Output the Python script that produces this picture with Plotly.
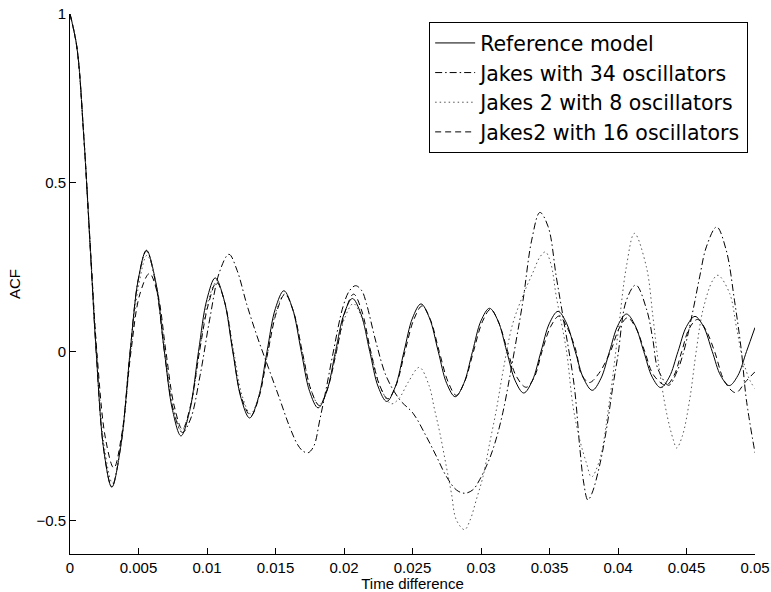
import plotly.graph_objects as go

# ---------------- data ----------------
ref_x = [0, 0.0005, 0.001, 0.0015, 0.00191, 0.00248, 0.00305, 0.00372, 0.00439, 0.00499,
         0.00558, 0.00624, 0.00689, 0.00749, 0.00810, 0.00874, 0.00938, 0.00999, 0.01060, 0.01124,
         0.01188, 0.01249, 0.01311, 0.01374, 0.01438, 0.01499, 0.01561, 0.01624, 0.01688, 0.01749,
         0.01811, 0.01874, 0.01938, 0.02000, 0.02061, 0.02124, 0.02188, 0.02250, 0.02312, 0.02374,
         0.02438, 0.02500, 0.02562, 0.02624, 0.02688, 0.02750, 0.02812, 0.02874, 0.02938, 0.03000,
         0.03062, 0.03124, 0.03188, 0.03250, 0.03312, 0.03374, 0.03438, 0.03500, 0.03562, 0.03624,
         0.03688, 0.03750, 0.03812, 0.03874, 0.03938, 0.04000, 0.04062, 0.04124, 0.04188, 0.04250,
         0.04312, 0.04374, 0.04438, 0.04500, 0.04562, 0.04624, 0.04688, 0.04750, 0.04812, 0.04874,
         0.04938, 0.05]
ref_y = [1.0, 0.903, 0.642, 0.291, 0.0, -0.296, -0.402, -0.276, 0.0, 0.215,
         0.300, 0.210, 0.0, -0.175, -0.250, -0.175, 0.0, 0.154, 0.218, 0.154,
         0.0, -0.139, -0.197, -0.139, 0.0, 0.127, 0.180, 0.127, 0.0, -0.118,
         -0.167, -0.118, 0.0, 0.111, 0.157, 0.111, 0.0, -0.105, -0.148, -0.105,
         0.0, 0.099, 0.141, 0.099, 0.0, -0.095, -0.134, -0.095, 0.0, 0.091,
         0.128, 0.091, 0.0, -0.087, -0.123, -0.087, 0.0, 0.084, 0.119, 0.084,
         0.0, -0.081, -0.115, -0.081, 0.0, 0.078, 0.111, 0.078, 0.0, -0.076,
         -0.107, -0.076, 0.0, 0.074, 0.104, 0.074, 0.0, -0.072, -0.101, -0.072,
         0.0, 0.071]

jakes34_x = [0, 0.0005, 0.001, 0.0015, 0.00191, 0.00248, 0.00305, 0.00372, 0.00439, 0.00499,
             0.00558, 0.00624, 0.00689, 0.00752, 0.0082, 0.0088, 0.0095, 0.0102, 0.0109, 0.0116,
             0.0122, 0.0129, 0.0137, 0.0145, 0.0153, 0.0160, 0.0166, 0.0170, 0.01738, 0.0178,
             0.01823, 0.0187, 0.0192, 0.01993, 0.0204, 0.02085, 0.0213, 0.02163, 0.02236, 0.0231,
             0.02407, 0.02504, 0.02601, 0.02675, 0.02747, 0.0282, 0.0288, 0.0294, 0.0299, 0.0306,
             0.0311, 0.0316, 0.0321, 0.0326, 0.03307, 0.0337, 0.0343, 0.0349, 0.0355, 0.0360,
             0.0368, 0.0372, 0.0375, 0.0378, 0.0381, 0.0387, 0.0392, 0.0396, 0.0400, 0.0406,
             0.0413, 0.0421, 0.04255, 0.0429, 0.0437, 0.0443, 0.0448, 0.04548, 0.04596, 0.04645,
             0.0472, 0.0479, 0.0485, 0.0490, 0.04937, 0.0500]
jakes34_y = [1.0, 0.903, 0.642, 0.291, 0.0, -0.296, -0.400, -0.276, 0.0, 0.215,
             0.298, 0.205, 0.0, -0.17, -0.24, -0.20, -0.07, 0.096, 0.234, 0.288,
             0.24, 0.14, 0.04, -0.05, -0.14, -0.22, -0.275, -0.295, -0.300, -0.28,
             -0.203, -0.11, -0.005, 0.133, 0.18, 0.195, 0.18, 0.143, 0.024, -0.075,
             -0.143, -0.183, -0.252, -0.311, -0.37, -0.41, -0.42, -0.41, -0.38, -0.32,
             -0.26, -0.18, -0.075, 0.04, 0.152, 0.33, 0.412, 0.37, 0.22, 0.10,
             -0.10, -0.28, -0.39, -0.44, -0.42, -0.33, -0.22, -0.11, -0.01, 0.15,
             0.197, 0.123, 0.034, -0.05, -0.10, -0.06, 0.0, 0.123, 0.221, 0.31,
             0.369, 0.30, 0.152, 0.004, -0.143, -0.30]

jakes2_8_x = [0, 0.0005, 0.001, 0.0015, 0.00195, 0.0025, 0.0031, 0.00375, 0.00443, 0.00503,
              0.00562, 0.0063, 0.00695, 0.00755, 0.00815, 0.0088, 0.00945, 0.01005, 0.01068, 0.0113,
              0.01195, 0.01256, 0.01318, 0.0138, 0.01445, 0.01505, 0.01567, 0.0163, 0.01695, 0.01756,
              0.01818, 0.0188, 0.01945, 0.02006, 0.02068, 0.0213, 0.02195, 0.0227, 0.02345, 0.0240,
              0.0247, 0.0255, 0.0262, 0.0266, 0.0270, 0.02747, 0.02784, 0.0282, 0.0288, 0.0292,
              0.02966, 0.03015, 0.03063, 0.03112, 0.0316, 0.0323, 0.0331, 0.0338, 0.0343, 0.0347,
              0.0351, 0.0355, 0.03623, 0.03672, 0.03721, 0.0377, 0.03806, 0.03866, 0.03939, 0.0400,
              0.04061, 0.0412, 0.04207, 0.04255, 0.04292, 0.04355, 0.04404, 0.04428, 0.0447, 0.04523,
              0.04572, 0.0462, 0.04693, 0.0473, 0.04815, 0.04864, 0.04912, 0.04961, 0.0500]
jakes2_8_y = [1.0, 0.900, 0.645, 0.300, 0.0, -0.28, -0.39, -0.27, 0.0, 0.20,
              0.285, 0.20, 0.0, -0.165, -0.235, -0.165, 0.0, 0.145, 0.205, 0.145,
              0.0, -0.13, -0.185, -0.13, 0.0, 0.12, 0.17, 0.12, 0.0, -0.11,
              -0.158, -0.11, 0.0, 0.10, 0.142, 0.10, 0.0, -0.11, -0.155, -0.14,
              -0.09, -0.047, -0.10, -0.17, -0.242, -0.341, -0.42, -0.499, -0.528, -0.50,
              -0.439, -0.37, -0.272, -0.173, -0.06, 0.08, 0.17, 0.235, 0.28, 0.295,
              0.26, 0.162, 0.004, -0.163, -0.262, -0.331, -0.372, -0.321, -0.143, 0.054,
              0.251, 0.35, 0.251, 0.103, -0.025, -0.183, -0.262, -0.286, -0.25, -0.143,
              0.004, 0.123, 0.212, 0.226, 0.172, 0.073, -0.025, -0.084, -0.11]

jakes2_16_x = [0, 0.0005, 0.001, 0.0015, 0.00196, 0.0026, 0.0032, 0.0038, 0.00445, 0.0051,
               0.0058, 0.0064, 0.0070, 0.0076, 0.0082, 0.0088, 0.00945, 0.0101, 0.0107, 0.0113,
               0.0119, 0.0125, 0.0132, 0.0138, 0.01445, 0.0151, 0.0157, 0.0163, 0.01695, 0.0176,
               0.0182, 0.0188, 0.01945, 0.0201, 0.0207, 0.0213, 0.02195, 0.0226, 0.0232, 0.0238,
               0.02445, 0.0251, 0.0257, 0.0263, 0.02695, 0.0276, 0.0282, 0.0288, 0.02945, 0.0301,
               0.0307, 0.0313, 0.03195, 0.0326, 0.0333, 0.0339, 0.03445, 0.0351, 0.0357, 0.0363,
               0.03695, 0.0373, 0.0379, 0.0386, 0.03945, 0.0401, 0.0407, 0.0413, 0.04195, 0.0426,
               0.0435, 0.0441, 0.04465, 0.0452, 0.0458, 0.0464, 0.04705, 0.0478, 0.0486, 0.0493,
               0.0500]
jakes2_16_y = [1.0, 0.900, 0.640, 0.300, 0.0, -0.26, -0.345, -0.24, 0.0, 0.17,
               0.231, 0.17, 0.0, -0.16, -0.23, -0.16, 0.0, 0.14, 0.205, 0.145,
               0.0, -0.135, -0.19, -0.135, 0.0, 0.12, 0.17, 0.12, 0.0, -0.115,
               -0.16, -0.11, 0.0, 0.12, 0.17, 0.12, 0.0, -0.10, -0.14, -0.10,
               0.0, 0.095, 0.135, 0.095, 0.0, -0.09, -0.13, -0.09, 0.0, 0.088,
               0.125, 0.085, 0.0, -0.075, -0.106, -0.075, 0.0, 0.075, 0.105, 0.07,
               0.0, -0.065, -0.092, -0.065, 0.0, 0.07, 0.10, 0.07, 0.0, -0.07,
               -0.10, -0.07, 0.0, 0.068, 0.095, 0.065, 0.0, -0.09, -0.122, -0.09,
               -0.06]

series_names = ["Reference model", "Jakes with 34 oscillators",
                "Jakes 2 with 8 oscillators", "Jakes2 with 16 oscillators"]

x_tick_vals = [0, 0.005, 0.01, 0.015, 0.02, 0.025, 0.03, 0.035, 0.04, 0.045, 0.05]
x_tick_text = ["0", "0.005", "0.01", "0.015", "0.02", "0.025", "0.03", "0.035", "0.04", "0.045", "0.05"]
y_tick_vals = [-0.5, 0, 0.5, 1]
y_tick_text = ["\u22120.5", "0", "0.5", "1"]

# ---------------- figure ----------------
tick_font = dict(family="Liberation Sans, Arial, Helvetica, sans-serif", size=15, color="black")

fig = go.Figure()
styles = [
    dict(color="black", width=1, dash="solid"),
    dict(color="black", width=1, dash="7px,3px,1.5px,3px"),
    dict(color="#555555", width=1, dash="1.5px,3px"),
    dict(color="black", width=1, dash="6px,4px"),
]
data = [(ref_x, ref_y), (jakes34_x, jakes34_y), (jakes2_8_x, jakes2_8_y), (jakes2_16_x, jakes2_16_y)]
for (xs, ys), name, st in zip(data, series_names, styles):
    fig.add_trace(go.Scatter(x=xs, y=ys, mode="lines", name=name,
                             line=dict(shape="spline", smoothing=1.0, **st)))

fig.update_layout(
    width=771, height=592,
    margin=dict(l=70, r=16, t=14, b=38),
    paper_bgcolor="white", plot_bgcolor="white",
    font=tick_font,
    showlegend=True,
    legend=dict(
        x=0.990, y=0.985, xanchor="right", yanchor="top",
        bgcolor="white", bordercolor="black", borderwidth=1,
        font=dict(family="DejaVu Sans, sans-serif", size=20.5, color="black"),
        traceorder="normal", itemwidth=40,
    ),
)
fig.update_xaxes(
    range=[0, 0.05], tickmode="array", tickvals=x_tick_vals, ticktext=x_tick_text,
    showline=True, linecolor="black", linewidth=1, mirror=False,
    ticks="inside", ticklen=6, tickwidth=1, tickcolor="black",
    showgrid=False, zeroline=False, automargin=False,
    title=dict(text="Time difference", standoff=7, font=tick_font),
)
fig.update_yaxes(
    range=[-0.6, 1], tickmode="array", tickvals=y_tick_vals, ticktext=y_tick_text,
    showline=True, linecolor="black", linewidth=1, mirror=False,
    ticks="inside", ticklen=6, tickwidth=1, tickcolor="black",
    showgrid=False, zeroline=False, automargin=False,
    title=dict(text="ACF", standoff=12, font=tick_font),
)

fig.write_html("out.html")
